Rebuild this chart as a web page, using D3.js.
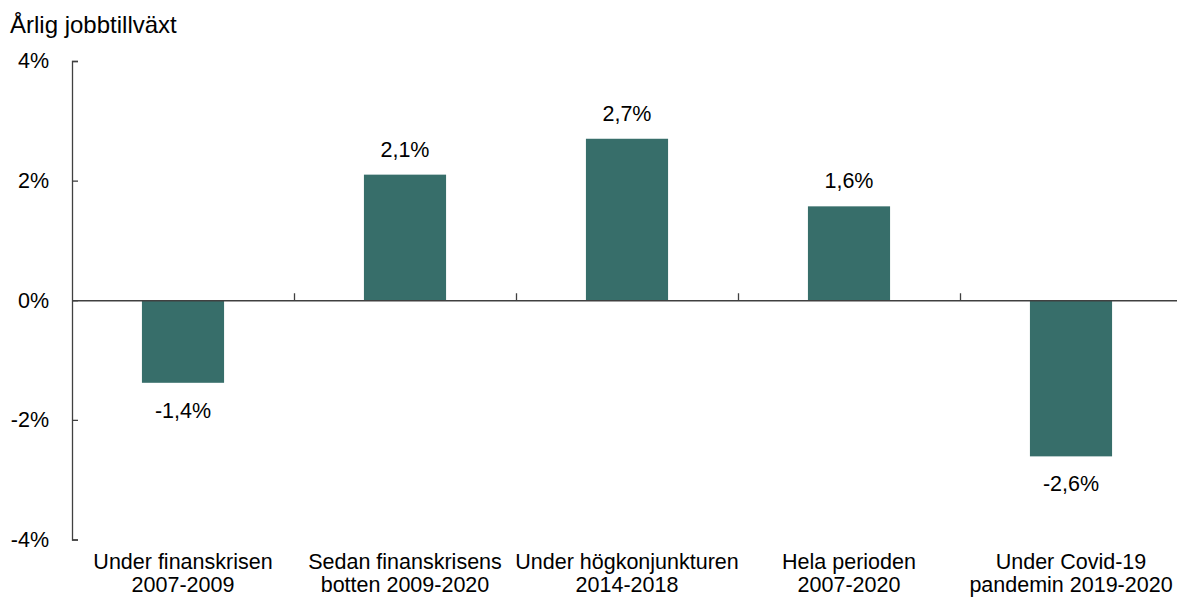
<!DOCTYPE html>
<html><head><meta charset="utf-8">
<script src="https://cdn.jsdelivr.net/npm/d3@7"></script>
<style>body{margin:0;background:#fff;} text{font-family:"Liberation Sans",Arial,sans-serif;fill:#000;}</style>
</head><body>
<svg id="chart" width="1177" height="597"></svg>
<script>
const categories = [
  ["Under finanskrisen", "2007-2009"],
  ["Sedan finanskrisens", "botten 2009-2020"],
  ["Under högkonjunkturen", "2014-2018"],
  ["Hela perioden", "2007-2020"],
  ["Under Covid-19", "pandemin 2019-2020"]
];
const values = [-1.38, 2.1, 2.7, 1.57, -2.61];
const yTicks = [-4, -2, 0, 2, 4];
const yTitle = "Årlig jobbtillväxt";

const svg = d3.select("#chart");
const x0 = 72, x1 = 1182, yTop = 61, yBot = 539.5;
const x = d3.scaleBand().domain(d3.range(categories.length)).range([x0, x1]).paddingInner(0).paddingOuter(0);
const y = d3.scaleLinear().domain([-4, 4]).range([yBot, yTop]);
const barW = x.bandwidth() * 0.37;
const fs = 21.5;
const axisColor = "#404040";

svg.append("text").attr("x", 10).attr("y", 33).style("font-size", "24px").text(yTitle);

// bars
svg.selectAll("rect.bar").data(values).join("rect")
  .attr("class", "bar")
  .attr("x", (d, i) => x(i) + (x.bandwidth() - barW) / 2)
  .attr("width", barW)
  .attr("y", d => y(Math.max(0, d)))
  .attr("height", d => Math.abs(y(d) - y(0)))
  .attr("fill", "#376e6a");

// y axis
const yAxis = d3.axisLeft(y).tickValues(yTicks).tickSizeInner(-6).tickSizeOuter(-6).tickPadding(23)
  .tickFormat(d => d + "%");
const ya = svg.append("g").attr("transform", `translate(${x0},0)`).call(yAxis);
ya.selectAll("path,line").attr("stroke", axisColor).attr("stroke-width", 1.3);
ya.selectAll("text").style("font-size", fs + "px").attr("fill", "#000").attr("font-family", null);

// x axis line at zero
const xAxis = d3.axisBottom(d3.scaleLinear().domain([0, 5]).range([x0, x1]))
  .tickValues(d3.range(1, categories.length)).tickSizeInner(-7).tickSizeOuter(0).tickFormat("");
const xa = svg.append("g").attr("transform", `translate(0,${y(0)})`).call(xAxis);
xa.selectAll("path,line").attr("stroke", axisColor).attr("stroke-width", 1.3);

// category labels
const cl = svg.selectAll("text.cat").data(categories).join("text")
  .attr("class", "cat")
  .attr("text-anchor", "middle")
  .style("font-size", fs + "px");
cl.each(function(d, i) {
  const t = d3.select(this);
  d.forEach((line, j) => {
    t.append("tspan").attr("x", x(i) + x.bandwidth() / 2).attr("y", 569 + j * 23).text(line);
  });
});

// value labels
const fmt = v => d3.format(".1f")(v).replace(".", ",").replace("−", "-") + "%";
svg.selectAll("text.val").data(values).join("text")
  .attr("class", "val")
  .attr("text-anchor", "middle")
  .style("font-size", fs + "px")
  .attr("x", (d, i) => x(i) + x.bandwidth() / 2)
  .attr("y", d => d >= 0 ? y(d) - 18 : y(d) + 35)
  .text(fmt);
</script>
</body></html>
